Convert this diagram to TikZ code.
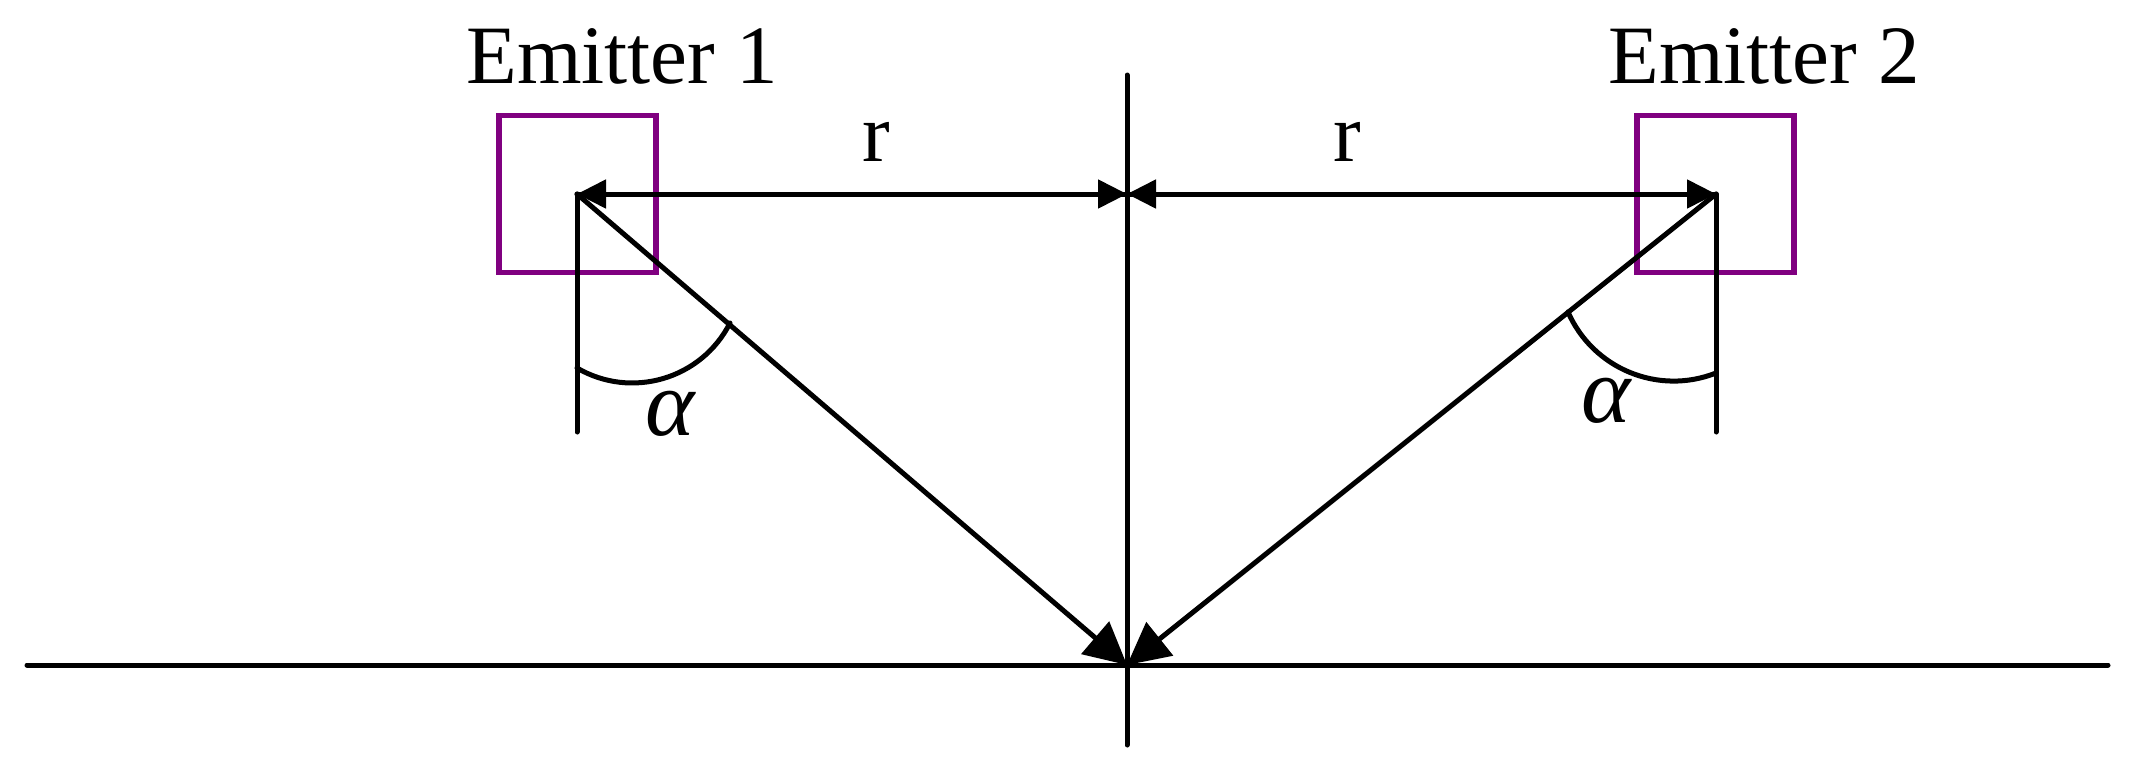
\documentclass[tikz,border=0pt]{standalone}
\usepackage{fontspec}
\setmainfont{Liberation Serif}
\usepackage{tikz}
\usetikzlibrary{arrows.meta}
\definecolor{emitterpurple}{RGB}{128,0,128}
\tikzset{%
  line/.style={draw=black,line width=2.5pt,line cap=round},
  ebox/.style={draw=emitterpurple,line width=2.7pt,shape=rectangle,minimum size=78.5pt,inner sep=0},
  lbl/.style={anchor=base,inner sep=0,font=\fontsize{41.5}{48}\selectfont},
  rtip/.style={-{Triangle[length=14.5pt,width=14pt]}},
  btip/.style={-{Triangle[length=21pt,width=21pt]}}
}
\begin{document}
\begin{tikzpicture}[x=0.5pt,y=-0.5pt]
    \useasboundingbox (0,0) rectangle (2136,771);
    \path
      (577,194) coordinate (e1)
      (1716,194) coordinate (e2)
      (1127,194) coordinate (m)
      (1127,665) coordinate (f)
      (1127,75) coordinate (mt)
      (1127,745) coordinate (mb)
      (27,665) coordinate (gl)
      (2108,665) coordinate (gr)
      (577,432) coordinate (e1b)
      (1716,432) coordinate (e2b)
      (577,368) coordinate (a1s)
      (730,323) coordinate (a1e)
      (1568,312) coordinate (a2s)
      (1716,373) coordinate (a2e);
    \path
      (577.5,194) node (b1)[ebox]{}
      (1715.5,194) node (b2)[ebox]{}
      (622,83) node (t1)[lbl]{Emitter 1}
      (1764,83) node (t2)[lbl]{Emitter 2}
      (876,161) node (r1)[lbl]{r}
      (1347,161) node (r2)[lbl]{r}
      (670,435) node (al1)[lbl]{\fontsize{47}{48}\selectfont\itshape α}
      (1606,422) node (al2)[lbl]{\fontsize{47}{48}\selectfont\itshape α};
    \draw[line] (gl) -- (gr);
    \draw[line] (mt) -- (mb);
    \draw[line] (e1) -- (e1b);
    \draw[line] (e2) -- (e2b);
    \draw[line,rtip] (m) -- (e1);
    \draw[line,rtip] (e1) -- (m);
    \draw[line,rtip] (m) -- (e2);
    \draw[line,rtip] (e2) -- (m);
    \draw[line,btip] (e1) -- (f);
    \draw[line,btip] (e2) -- (f);
    \draw[line] (a1s) .. controls (631.4,399.8) and (701.5,379.2) .. (a1e);
    \draw[line] (a2s) .. controls (1592.9,368.8) and (1658.3,395.8) .. (a2e);
  \end{tikzpicture}
\end{document}
